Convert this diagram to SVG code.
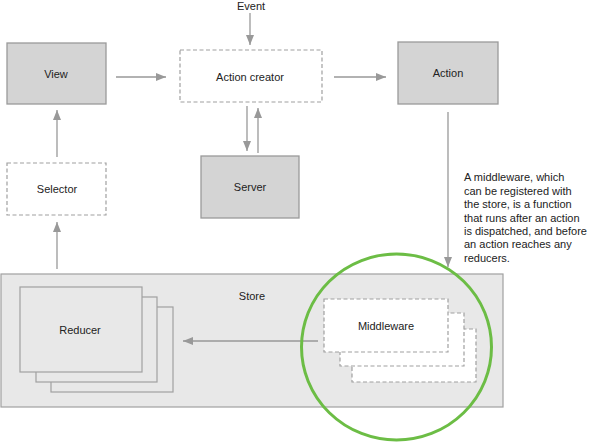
<svg xmlns="http://www.w3.org/2000/svg" width="590" height="442" viewBox="0 0 590 442">
<defs>
<style>
text{font-family:"Liberation Sans",Arial,sans-serif;font-size:11px;fill:#222}
.lbl{text-anchor:middle}
.solid{fill:#d4d4d4;stroke:#9a9a9a;stroke-width:1.3}
.dash{fill:#fff;stroke:#a0a0a0;stroke-width:1.2;stroke-dasharray:4 2.5}
.store{fill:#e8e8e8;stroke:#a0a0a0;stroke-width:1.2}
.conn{stroke:#999;stroke-width:1.3;fill:none}
</style>
<marker id="ah" viewBox="0 0 10 8" refX="10" refY="4" markerWidth="10" markerHeight="8" markerUnits="userSpaceOnUse" orient="auto">
<path d="M0,0 L10,4 L0,8 z" fill="#999"/>
</marker>
</defs>
<rect width="590" height="442" fill="#fff"/>

<g id="store">
<rect class="store" x="1" y="274" width="502" height="133"/>
<text class="lbl" x="252" y="300">Store</text>
</g>

<g id="reducer">
<rect class="store" x="51" y="307" width="122" height="85"/>
<rect class="store" x="36" y="297" width="121" height="85"/>
<rect class="store" x="20" y="287" width="122" height="85"/>
<text class="lbl" x="80" y="334">Reducer</text>
</g>

<g id="middleware">
<rect class="dash" x="352" y="329" width="124" height="53"/>
<rect class="dash" x="340" y="313" width="124" height="53"/>
<rect class="dash" x="324" y="299" width="124" height="53"/>
<text class="lbl" x="386" y="330">Middleware</text>
</g>

<g id="view">
<rect class="solid" x="7" y="43" width="99" height="61"/>
<text class="lbl" x="56" y="78">View</text>
</g>

<g id="action-creator">
<rect class="dash" x="180" y="50" width="142" height="52"/>
<text class="lbl" x="250" y="81">Action creator</text>
</g>

<g id="action">
<rect class="solid" x="398" y="42" width="100" height="62"/>
<text class="lbl" x="448" y="77">Action</text>
</g>

<g id="server">
<rect class="solid" x="201" y="156" width="98" height="62"/>
<text class="lbl" x="250" y="191">Server</text>
</g>

<g id="selector">
<rect class="dash" x="7" y="163" width="99" height="52"/>
<text class="lbl" x="57" y="193">Selector</text>
</g>

<g id="event">
<text class="lbl" x="251" y="10">Event</text>
</g>

<g id="connectors">
<line class="conn" x1="250" y1="13" x2="250" y2="45" marker-end="url(#ah)"/>
<line class="conn" x1="116" y1="77" x2="166" y2="77" marker-end="url(#ah)"/>
<line class="conn" x1="334" y1="77" x2="386" y2="77" marker-end="url(#ah)"/>
<line class="conn" x1="247" y1="106" x2="247" y2="151" marker-end="url(#ah)"/>
<line class="conn" x1="258" y1="153" x2="258" y2="108" marker-end="url(#ah)"/>
<line class="conn" x1="57" y1="157" x2="57" y2="110" marker-end="url(#ah)"/>
<line class="conn" x1="57" y1="269" x2="57" y2="222" marker-end="url(#ah)"/>
<line class="conn" x1="448" y1="112" x2="448" y2="267" marker-end="url(#ah)"/>
<line class="conn" x1="318" y1="341" x2="183" y2="341" marker-end="url(#ah)"/>
</g>

<g id="highlight">
<ellipse cx="396.5" cy="347" rx="95" ry="93" fill="none" stroke="#6cbd45" stroke-width="3"/>
</g>

<g id="note">
<text x="464" y="181">A middleware, which</text>
<text x="464" y="195">can be registered with</text>
<text x="464" y="208">the store, is a function</text>
<text x="464" y="222">that runs after an action</text>
<text x="464" y="235">is dispatched, and before</text>
<text x="464" y="248">an action reaches any</text>
<text x="464" y="262">reducers.</text>
</g>
</svg>
